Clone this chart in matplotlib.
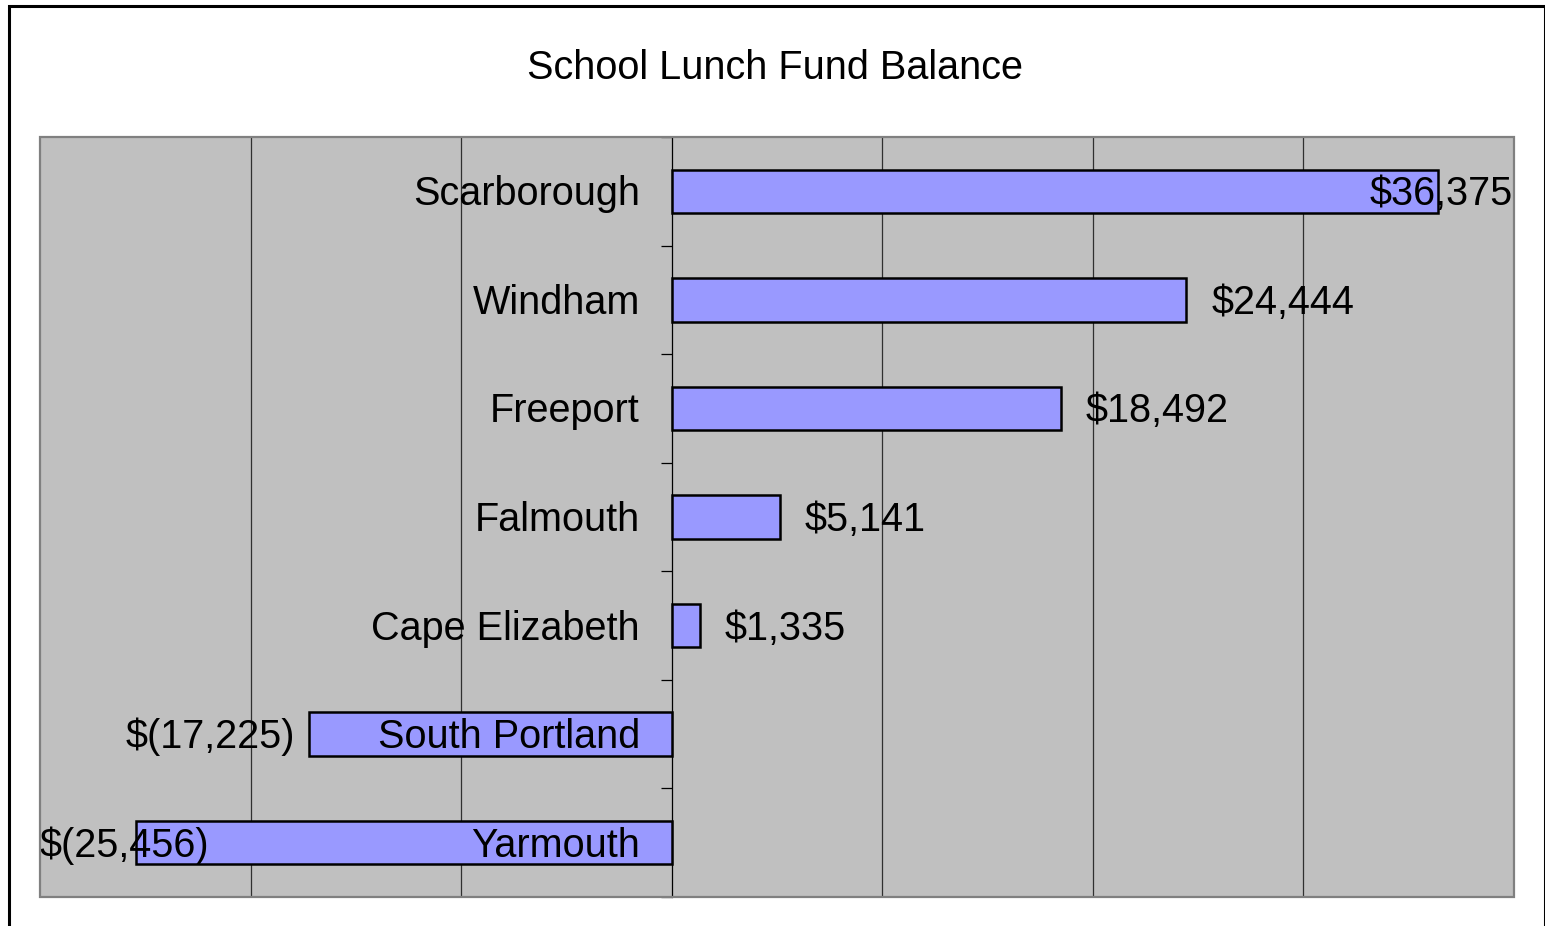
import matplotlib.pyplot as plt
from matplotlib.patches import Rectangle

districts = ['Scarborough', 'Windham', 'Freeport', 'Falmouth',
             'Cape Elizabeth', 'South Portland', 'Yarmouth']
balances = [36375, 24444, 18492, 5141, 1335, -17225, -25456]
x_min, x_max = -30000, 40000
grid_steps = [-20000, -10000, 10000, 20000, 30000]

plt.rcParams['font.family'] = ['Liberation Sans', 'DejaVu Sans']
FS = 28.5
DY = -2.2  # nudge text down a little, in points


def money(v):
    if v < 0:
        return f'$({abs(v):,})'
    return f'${v:,}'


fig = plt.figure(figsize=(15.45, 9.26), dpi=100)
ax = fig.add_axes([40 / 1545, 29 / 926, 1474 / 1545, 760 / 926])
ax.set_facecolor('#C0C0C0')

ypos = list(range(len(districts)))
ax.barh(ypos, balances, height=0.4, color='#9999FF', edgecolor='black',
        linewidth=1.8, zorder=3)

ax.set_xlim(x_min, x_max)
ax.set_ylim(len(districts) - 0.5, -0.5)

# gridlines
ax.set_xticks(grid_steps)
ax.set_xticklabels([])
ax.tick_params(axis='x', length=0)
ax.grid(axis='x', color='#303030', linewidth=0.9, zorder=1)

# category axis at zero
for s in ['top', 'right', 'bottom']:
    ax.spines[s].set_visible(False)
ax.spines['left'].set_position(('data', 0))
ax.spines['left'].set_color('black')
ax.spines['left'].set_linewidth(0.9)
ax.spines['left'].set_zorder(2)
ax.set_yticks([i - 0.5 for i in range(len(districts) + 1)])
ax.set_yticklabels([])
ax.tick_params(axis='y', direction='out', length=8, width=0.9, color='black')

# plot area border
ax.add_patch(Rectangle((0, 0), 1, 1, transform=ax.transAxes, fill=False,
                       edgecolor='#808080', linewidth=1.6, zorder=6, clip_on=False))

fig.canvas.draw()
r = fig.canvas.get_renderer()
ax_box = ax.get_window_extent(r)

for i, (name, v) in enumerate(zip(districts, balances)):
    ax.annotate(name, (0, i), xytext=(-23, DY), textcoords='offset points',
                ha='right', va='center', fontsize=FS, zorder=5)
    t = ax.annotate(money(v), (v, i), xytext=(18 if v > 0 else -10, DY),
                    textcoords='offset points', ha='left' if v > 0 else 'right',
                    va='center', fontsize=FS, zorder=5)
    bb = t.get_window_extent(r)
    if bb.x1 > ax_box.x1:
        t.set_ha('right')
        t.xy = (x_max, i)
        t.set_position((-1, DY))
    elif bb.x0 < ax_box.x0:
        t.set_ha('left')
        t.xy = (x_min, i)
        t.set_position((0, DY))

fig.text(775 / 1545, 1 - 68 / 926, 'School Lunch Fund Balance', ha='center',
         va='center', fontsize=FS)

fig.add_artist(Rectangle((8.5 / 1545, -0.05), 1536 / 1545, 0.05 + 920 / 926,
                         transform=fig.transFigure, fill=False,
                         edgecolor='black', linewidth=2.2))

fig.savefig('out.png', dpi=100)
